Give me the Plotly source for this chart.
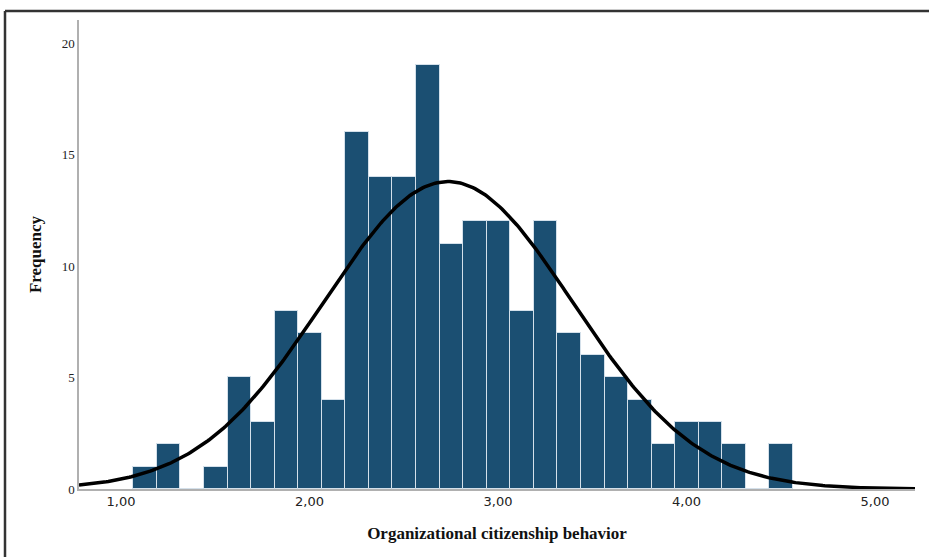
import numpy as np
import plotly.graph_objects as go

# Histogram data
bin_start = 1.065
bin_width = 0.125
counts = [1, 2, 0, 1, 5, 3, 8, 7, 4, 16, 14, 14, 19, 11, 12, 12, 8, 12, 7, 6, 5, 4, 2, 3, 3, 2, 0, 2]
# Normal curve parameters (estimated)
curve_mean = 2.735
curve_sd = 0.662

x_range = [0.777, 5.212]
y_range = [0, 21.03]
x_ticks = [1, 2, 3, 4, 5]
y_ticks = [0, 5, 10, 15, 20]

n_total = sum(counts)
centers = [bin_start + bin_width * (i + 0.5) for i in range(len(counts))]
xs = np.linspace(x_range[0], x_range[1], 400)
ys = n_total * bin_width / (curve_sd * np.sqrt(2 * np.pi)) * np.exp(-0.5 * ((xs - curve_mean) / curve_sd) ** 2)

fig = go.Figure()
fig.add_trace(go.Bar(
    x=centers, y=counts, width=bin_width,
    marker=dict(color="#1b4f72", line=dict(color="#d4e0ea", width=1)),
    showlegend=False, hoverinfo="x+y",
))
fig.add_trace(go.Scatter(
    x=xs, y=ys, mode="lines", line=dict(color="black", width=3.5),
    showlegend=False, hoverinfo="skip",
))

fig.update_layout(
    width=929, height=557,
    margin=dict(l=79, r=14, t=20, b=68),
    paper_bgcolor="white", plot_bgcolor="white",
    separators=",.",
    bargap=0,
    xaxis=dict(
        range=x_range, tickvals=x_ticks, tickformat=".2f",
        showgrid=False, zeroline=False,
        showline=True, linecolor="#b0b0b0", linewidth=1.5,
        ticks="", ticklen=0,
        tickfont=dict(family="DejaVu Sans", size=13, color="#222222"),
        title=dict(text="<b>Organizational citizenship behavior</b>",
                   font=dict(family="Liberation Serif", size=17, color="#111111"),
                   standoff=19),
    ),
    yaxis=dict(
        range=y_range, tickvals=y_ticks,
        showgrid=False, zeroline=False,
        showline=True, linecolor="#b0b0b0", linewidth=1.5,
        ticks="", ticklen=0,
        tickfont=dict(family="Liberation Serif", size=13, color="#222222"),
        title=dict(text="<b>Frequency</b>",
                   font=dict(family="Liberation Serif", size=17, color="#111111"),
                   standoff=16),
    ),
    shapes=[
        dict(type="line", xref="paper", yref="paper",
             x0=(5 - 79) / 836, x1=1.02, y0=1 + 9 / 469, y1=1 + 9 / 469,
             line=dict(color="#333333", width=2.5)),
        dict(type="line", xref="paper", yref="paper",
             x0=(5 - 79) / 836, x1=(5 - 79) / 836, y0=1 + 9 / 469, y1=-0.2,
             line=dict(color="#333333", width=2.5)),
    ],
)

fig.write_html("out.html", config={"displayModeBar": False},
               post_script="document.body.style.margin='0';")
